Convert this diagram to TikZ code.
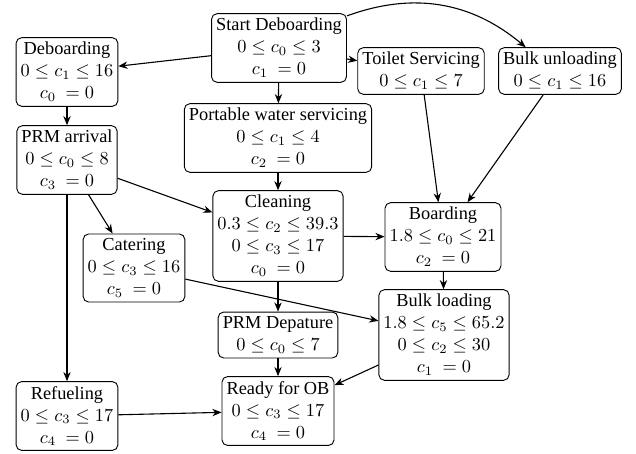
\documentclass[tikz,border=0pt]{standalone}
\usepackage{fontspec}
\setmainfont{Liberation Serif}
\usetikzlibrary{arrows.meta}
\begin{document}
\begin{tikzpicture}[x=0.5455pt,y=-0.5455pt,
  box/.style={draw, rounded corners=3pt, align=center, inner sep=2.5pt, line width=0.5pt},
  arr/.style={-{Stealth[length=5pt,width=4pt]}, line width=0.6pt}]
\useasboundingbox (0,0) rectangle (636,453);
\node[box] (start) at (279,48) {Start Deboarding\\$0\le c_0\le 3$\\$c_1\ = 0$};
\node[box] (deb) at (67,72) {Deboarding\\$0\le c_1\le 16$\\$c_0\ = 0$};
\node[box] (toilet) at (421,71) {Toilet Servicing\\$0\le c_1\le 7$};
\node[box] (bulkun) at (560,71) {Bulk unloading\\$0\le c_1\le 16$};
\node[box] (water) at (278,138) {Portable water servicing\\$0\le c_1\le 4$\\$c_2\ = 0$};
\node[box] (prma) at (67,160) {PRM arrival\\$0\le c_0\le 8$\\$c_3\ = 0$};
\node[box] (clean) at (278,236) {Cleaning\\$0.3\le c_2\le 39.3$\\$0\le c_3\le 17$\\$c_0\ = 0$};
\node[box] (board) at (443,237) {Boarding\\$1.8\le c_0\le 21$\\$c_2\ = 0$};
\node[box] (cater) at (134,268) {Catering\\$0\le c_3\le 16$\\$c_5\ = 0$};
\node[box] (prmd) at (278,335) {PRM Depature\\$0\le c_0\le 7$};
\node[box] (bulkl) at (444,335) {Bulk loading\\$1.8\le c_5\le 65.2$\\$0\le c_2\le 30$\\$c_1\ = 0$};
\node[box] (refuel) at (67,416) {Refueling\\$0\le c_3\le 17$\\$c_4\ = 0$};
\node[box] (ready) at (278,411) {Ready for OB\\$0\le c_3\le 17$\\$c_4\ = 0$};
\draw[arr] (start) -- (deb);
\draw[arr] (start) -- (toilet);
\draw[arr] (start) to[bend left=30] (bulkun);
\draw[arr] (start) -- (water);
\draw[arr] (deb) -- (prma);
\draw[arr] (water) -- (clean);
\draw[arr] (prma) -- (clean);
\draw[arr] (prma) -- (cater);
\draw[arr] (prma) -- (refuel);
\draw[arr] (toilet) -- (board);
\draw[arr] (bulkun) -- (board);
\draw[arr] (clean) -- (board);
\draw[arr] (cater) -- (bulkl);
\draw[arr] (clean) -- (prmd);
\draw[arr] (board) -- (bulkl);
\draw[arr] (prmd) -- (ready);
\draw[arr] (refuel) -- (ready);
\draw[arr] (bulkl) -- (ready);
\end{tikzpicture}
\end{document}
